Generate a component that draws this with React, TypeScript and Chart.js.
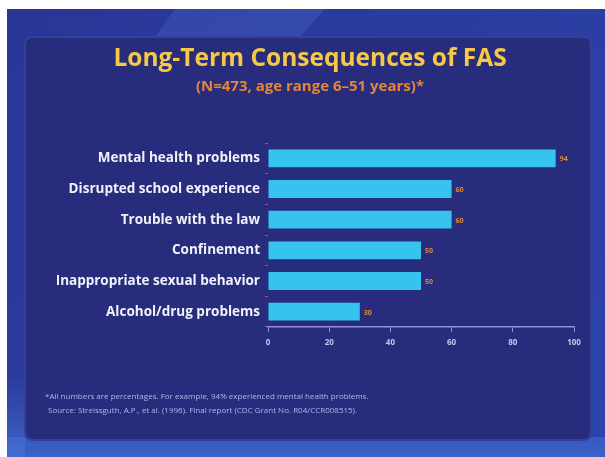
import React, { useEffect, useRef } from "react";
import { Chart, registerables } from "chart.js";
Chart.register(...registerables);

const categories = [
  "Mental health problems",
  "Disrupted school experience",
  "Trouble with the law",
  "Confinement",
  "Inappropriate sexual behavior",
  "Alcohol/drug problems",
];
const values = [94, 60, 60, 50, 50, 30];
const xTicks = [0, 20, 40, 60, 80, 100];
const titleText = "Long-Term Consequences of FAS";
const subtitleText = "(N=473, age range 6–51 years)*";
const footnotes = [
  "*All numbers are percentages. For example, 94% experienced mental health problems.",
  "Source: Streissguth, A.P., et al. (1996). Final report (CDC Grant No. R04/CCR008515).",
];

const FONT = "'Open Sans', 'DejaVu Sans', sans-serif";

function roundRect(ctx: CanvasRenderingContext2D, x: number, y: number, w: number, h: number, r: number) {
  ctx.beginPath();
  ctx.moveTo(x + r, y);
  ctx.lineTo(x + w - r, y);
  ctx.quadraticCurveTo(x + w, y, x + w, y + r);
  ctx.lineTo(x + w, y + h - r);
  ctx.quadraticCurveTo(x + w, y + h, x + w - r, y + h);
  ctx.lineTo(x + r, y + h);
  ctx.quadraticCurveTo(x, y + h, x, y + h - r);
  ctx.lineTo(x, y + r);
  ctx.quadraticCurveTo(x, y, x + r, y);
  ctx.closePath();
}

const backgroundPlugin = {
  id: "slideBackground",
  beforeDraw(chart: any) {
    const ctx = chart.ctx as CanvasRenderingContext2D;
    const W = chart.width;
    const H = chart.height;
    ctx.save();
    ctx.fillStyle = "#ffffff";
    ctx.fillRect(0, 0, W, H);
    const g = ctx.createLinearGradient(7, 0, W, H);
    g.addColorStop(0, "#2a3696");
    g.addColorStop(0.5, "#2b3c9f");
    g.addColorStop(1, "#2c44ad");
    ctx.fillStyle = g;
    ctx.fillRect(7, 9, W - 7, H - 9);
    // top highlight
    ctx.fillStyle = "rgba(80,110,210,0.3)";
    ctx.beginPath();
    ctx.moveTo(175, 9);
    ctx.lineTo(325, 9);
    ctx.lineTo(300, 37);
    ctx.lineTo(155, 37);
    ctx.closePath();
    ctx.fill();
    // bottom lighter band
    const gb = ctx.createLinearGradient(0, 435, 0, H);
    gb.addColorStop(0, "#3858be");
    gb.addColorStop(1, "#3a62c6");
    ctx.fillStyle = gb;
    ctx.fillRect(7, 437, W - 7, H - 437);
    // left lighter strip at bottom
    const gl = ctx.createLinearGradient(0, 370, 0, H);
    gl.addColorStop(0, "rgba(60,100,200,0)");
    gl.addColorStop(1, "rgba(70,110,210,0.8)");
    ctx.fillStyle = gl;
    ctx.fillRect(7, 370, 18, H - 370);
    // inner panel
    roundRect(ctx, 25, 37, 566, 403, 8);
    ctx.fillStyle = "#282c7c";
    ctx.fill();
    ctx.lineWidth = 2;
    ctx.strokeStyle = "#33419c";
    ctx.stroke();
    ctx.restore();
  },
};

const textPlugin = {
  id: "slideText",
  afterDraw(chart: any) {
    const ctx = chart.ctx as CanvasRenderingContext2D;
    ctx.save();
    ctx.textAlign = "center";
    ctx.textBaseline = "middle";
    ctx.fillStyle = "#f7c844";
    ctx.font = `bold 24.5px ${FONT}`;
    ctx.fillText(titleText, 310, 59);
    ctx.fillStyle = "#e3863c";
    ctx.font = `bold 15px ${FONT}`;
    ctx.fillText(subtitleText, 310, 87);

    const meta = chart.getDatasetMeta(0);
    ctx.textAlign = "left";
    ctx.fillStyle = "#dc8c3e";
    ctx.font = `bold 7px ${FONT}`;
    meta.data.forEach((bar: any, i: number) => {
      ctx.fillText(String(values[i]), bar.x + 4, bar.y + 1);
    });

    ctx.fillStyle = "#aeb6e6";
    ctx.font = `8px ${FONT}`;
    ctx.fillText(footnotes[0], 45, 397);
    ctx.fillText(footnotes[1], 48, 411);
    ctx.restore();
  },
};

export default function App() {
  const ref = useRef<HTMLCanvasElement | null>(null);
  useEffect(() => {
    if (!ref.current) return;
    const chart = new Chart(ref.current, {
      type: "bar",
      data: {
        labels: categories,
        datasets: [
          {
            data: values,
            backgroundColor: "#36c3ee",
            borderWidth: 0,
            categoryPercentage: 1,
            barPercentage: 0.58,
          },
        ],
      },
      options: {
        indexAxis: "y",
        responsive: false,
        animation: false,
        devicePixelRatio: 1,
        layout: { padding: { top: 143, left: 0, right: 31, bottom: 0 } },
        plugins: { legend: { display: false }, title: { display: false }, tooltip: { enabled: false } },
        scales: {
          x: {
            min: 0,
            max: 100,
            afterBuildTicks(scale: any) {
              scale.ticks = xTicks.map((v) => ({ value: v }));
            },
            afterFit(scale: any) {
              scale.height = 130;
            },
            border: { display: true, color: "#8c90d4", width: 1.5 },
            grid: { drawOnChartArea: false, drawTicks: true, tickLength: 5, color: "#8c90d4" },
            ticks: {
              color: "#c4c6ee",
              padding: 6,
              font: { family: FONT, size: 8, weight: "bold" },
            },
          },
          y: {
            afterFit(scale: any) {
              scale.width = 268;
            },
            border: { display: false },
            grid: { drawOnChartArea: false, drawTicks: true, tickLength: 3, color: "#8a5aa0", offset: true },
            ticks: {
              color: "#f2f2fa",
              padding: 5,
              font: { family: FONT, size: 13.5, weight: "bold" },
            },
          },
        },
      },
      plugins: [backgroundPlugin, textPlugin],
    } as any);
    return () => chart.destroy();
  }, []);
  return (
    <div style={{ position: "fixed", left: 0, top: 0, width: 605, height: 457 }}>
      <canvas ref={ref} width={605} height={457} />
    </div>
  );
}
